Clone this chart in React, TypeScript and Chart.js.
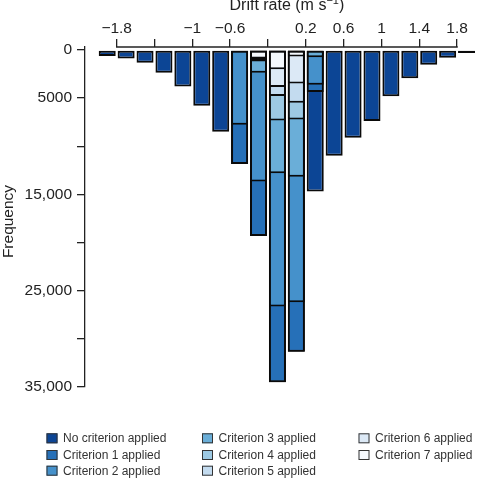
import { useEffect, useRef } from "react";
import { Chart, registerables } from "chart.js";

Chart.register(...registerables);

// Bin centres of drift rate (m s^-1)
const bins = [-1.9, -1.7, -1.5, -1.3, -1.1, -0.9, -0.7, -0.5, -0.3, -0.1, 0.1, 0.3, 0.5, 0.7, 0.9, 1.1, 1.3, 1.5, 1.7, 1.9];

const seriesLabels = [
  "No criterion applied",
  "Criterion 1 applied",
  "Criterion 2 applied",
  "Criterion 3 applied",
  "Criterion 4 applied",
  "Criterion 5 applied",
  "Criterion 6 applied",
  "Criterion 7 applied",
];

// Frequency remaining after each criterion (cumulative filtering)
const noCriterion = [630, 870, 1320, 2370, 3800, 5800, 8500, 11840, 19330, 34500, 31350, 14700, 10970, 9120, 7380, 4800, 2930, 1530, 800, 310];
const criterion1 = [0, 0, 0, 0, 0, 0, 0, 11840, 19330, 34500, 31350, 4350, 0, 0, 0, 0, 0, 0, 0, 0];
const criterion2 = [0, 0, 0, 0, 0, 0, 0, 7770, 13660, 26650, 26200, 3620, 0, 0, 0, 0, 0, 0, 0, 0];
const criterion3 = [0, 0, 0, 0, 0, 0, 0, 0, 2370, 12800, 13170, 760, 0, 0, 0, 0, 0, 0, 0, 0];
const criterion4 = [0, 0, 0, 0, 0, 0, 0, 0, 1200, 7320, 7210, 0, 0, 0, 0, 0, 0, 0, 0, 0];
const criterion5 = [0, 0, 0, 0, 0, 0, 0, 0, 1100, 4780, 5490, 0, 0, 0, 0, 0, 0, 0, 0, 0];
const criterion6 = [0, 0, 0, 0, 0, 0, 0, 0, 990, 3830, 3480, 0, 0, 0, 0, 0, 0, 0, 0, 0];
const criterion7 = [0, 0, 0, 0, 0, 0, 0, 0, 890, 1990, 680, 0, 0, 0, 0, 0, 0, 0, 0, 0];

const seriesValues = [noCriterion, criterion1, criterion2, criterion3, criterion4, criterion5, criterion6, criterion7];

const seriesColors = ["#0c4595", "#2670b8", "#4591cb", "#6aaed8", "#9dc9e3", "#c3dbef", "#dce9f6", "#f5f9fd"];

const xTickValues = [-1.8, -1.4, -1, -0.6, -0.2, 0.2, 0.6, 1, 1.4, 1.8];
const xTickLabels = ["−1.8", "", "−1", "−0.6", "", "0.2", "0.6", "1", "1.4", "1.8"];
const yTickValues = [0, 5000, 10000, 15000, 20000, 25000, 30000, 35000];
const yTickLabels = ["0", "5000", "", "15,000", "", "25,000", "", "35,000"];

const FONT = "'Liberation Sans', Arial, Helvetica, sans-serif";
const AXIS_COLOR = "#222";

const decorPlugin = {
  id: "decor",
  afterDraw(chart: any) {
    const ctx = chart.ctx as CanvasRenderingContext2D;
    const xs = chart.scales.x;
    const top = chart.chartArea.top;
    ctx.save();
    // top axis line spanning the labelled range only
    ctx.strokeStyle = AXIS_COLOR;
    ctx.lineWidth = 1.3;
    ctx.beginPath();
    ctx.moveTo(xs.getPixelForValue(xTickValues[0]) - 0.65, top);
    ctx.lineTo(xs.getPixelForValue(xTickValues[xTickValues.length - 1]) + 0.65, top);
    ctx.stroke();

    // x title with superscript
    ctx.fillStyle = AXIS_COLOR;
    ctx.textBaseline = "alphabetic";
    ctx.textAlign = "left";
    const mainFont = `16px ${FONT}`;
    const supFont = `11px ${FONT}`;
    const main = "Drift rate (m s";
    const sup = "−1";
    const close = ")";
    ctx.font = mainFont;
    const wMain = ctx.measureText(main).width;
    const wClose = ctx.measureText(close).width;
    ctx.font = supFont;
    const wSup = ctx.measureText(sup).width;
    const total = wMain + wSup + wClose;
    const cx = xs.getPixelForValue(0);
    let sx = cx - total / 2;
    const base = 10;
    ctx.font = mainFont;
    ctx.fillText(main, sx, base);
    sx += wMain;
    ctx.font = supFont;
    ctx.fillText(sup, sx, base - 6);
    sx += wSup;
    ctx.font = mainFont;
    ctx.fillText(close, sx, base);

    // y title
    ctx.save();
    ctx.translate(9, 221.5);
    ctx.rotate(-Math.PI / 2);
    ctx.font = `15.5px ${FONT}`;
    ctx.textAlign = "center";
    ctx.textBaseline = "middle";
    ctx.fillText("Frequency", 0, 0);
    ctx.restore();

    // legend, column-major grid
    const colX = [46.5, 202, 358.5];
    const rowY = [438.3, 455, 470.7];
    ctx.font = `12px ${FONT}`;
    ctx.textAlign = "left";
    ctx.textBaseline = "middle";
    chart.data.datasets.forEach((ds: any, i: number) => {
      const col = Math.floor(i / 3);
      const row = i % 3;
      const bx = colX[col];
      const by = rowY[row];
      ctx.fillStyle = ds.backgroundColor;
      ctx.fillRect(bx, by - 5, 11, 10);
      ctx.strokeStyle = "#333";
      ctx.lineWidth = 1;
      ctx.strokeRect(bx + 0.5, by - 4.5, 10, 9);
      ctx.fillStyle = "#333";
      ctx.fillText(ds.label, bx + 16.5, by + 0.5);
    });
    ctx.restore();
  },
};

export default function App() {
  const canvasRef = useRef<HTMLCanvasElement | null>(null);

  useEffect(() => {
    const canvas = canvasRef.current;
    if (!canvas) return;
    const datasets = seriesLabels.map((label, si) => ({
      label,
      data: bins.map((b, i) => ({ x: b, y: seriesValues[si][i] })),
      backgroundColor: seriesColors[si],
      borderColor: "#0a0a0a",
      borderWidth: 2,
      borderSkipped: false as const,
      grouped: false,
      barPercentage: 0.9,
      categoryPercentage: 1,
      order: seriesLabels.length - si,
    }));

    const chart = new Chart(canvas, {
      type: "bar",
      data: { datasets },
      options: {
        animation: false,
        responsive: false,
        devicePixelRatio: 1,
        layout: { padding: { left: 0, right: 8, top: 0, bottom: 95 } },
        plugins: {
          legend: { display: false },
          tooltip: { enabled: false },
          title: { display: false },
        },
        scales: {
          x: {
            type: "linear",
            position: "top",
            min: -2.135,
            max: 2.0,
            offset: false,
            afterBuildTicks: (s: any) => {
              s.ticks = xTickValues.map((v) => ({ value: v }));
            },
            afterFit: (s: any) => {
              s.height = 47;
            },
            ticks: {
              autoSkip: false,
              maxRotation: 0,
              padding: 1,
              color: AXIS_COLOR,
              font: { family: FONT, size: 15.5 },
              callback: (v: any) => {
                const idx = xTickValues.findIndex((t) => Math.abs(t - Number(v)) < 1e-6);
                return idx >= 0 ? xTickLabels[idx] : "";
              },
            },
            grid: {
              offset: false,
              drawOnChartArea: false,
              drawTicks: true,
              tickLength: 8,
              color: AXIS_COLOR,
              lineWidth: 1.3,
            },
            border: { display: false },
          },
          y: {
            type: "linear",
            reverse: true,
            min: -312,
            max: 35000,
            afterBuildTicks: (s: any) => {
              s.ticks = yTickValues.map((v) => ({ value: v }));
            },
            afterFit: (s: any) => {
              s.width = 85;
            },
            ticks: {
              autoSkip: false,
              padding: 5,
              color: AXIS_COLOR,
              font: { family: FONT, size: 15.5 },
              callback: (v: any) => {
                const idx = yTickValues.indexOf(Number(v));
                return idx >= 0 ? yTickLabels[idx] : "";
              },
            },
            grid: {
              drawOnChartArea: false,
              drawTicks: true,
              tickLength: 8,
              color: AXIS_COLOR,
              lineWidth: 1.3,
            },
            border: { display: true, color: AXIS_COLOR, width: 1.3 },
          },
        },
      } as any,
      plugins: [decorPlugin],
    });
    return () => chart.destroy();
  }, []);

  return (
    <div style={{ position: "absolute", left: 0, top: 0, width: 484, height: 482, background: "#fff" }}>
      <canvas ref={canvasRef} width={484} height={482} style={{ width: 484, height: 482, display: "block" }} />
    </div>
  );
}
